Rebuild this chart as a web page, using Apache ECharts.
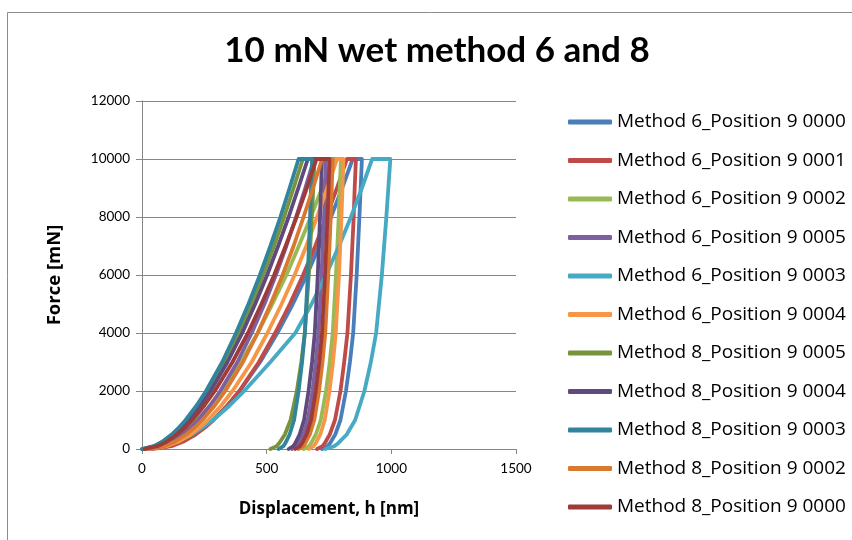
<!DOCTYPE html>
<html>
<head>
<meta charset="utf-8">
<script src="https://cdn.jsdelivr.net/npm/echarts@6/dist/echarts.min.js"></script>
<style>
  html, body { margin: 0; padding: 0; background: #fff; }
  #chart { width: 852px; height: 540px; }
</style>
</head>
<body>
<div id="chart"></div>
<script>
// Force levels (mN) shared by every indentation curve
const forceLoad   = [0, 100, 250, 500, 750, 1000, 1500, 2000, 3000, 4000, 5000, 6000, 7000, 8000, 9000, 10000];
const forceUnload = [10000, 9000, 8000, 6000, 4000, 3000, 2000, 1000, 500, 200, 100, 0];

// Displacement (nm) at each force level: loading branch, then hold end + unloading branch
const m6p0000Load   = [25, 107, 155, 209, 250, 284, 342, 392, 474, 543, 605, 661, 711, 758, 803, 845];
const m6p0000Unload = [882, 877, 872, 861, 847, 834, 818, 796, 775, 754, 744, 722];

const m6p0001Load   = [40, 118, 164, 215, 254, 287, 343, 390, 469, 534, 593, 646, 695, 739, 782, 822];
const m6p0001Unload = [858, 853, 849, 838, 824, 811, 796, 774, 753, 733, 724, 702];

const m6p0002Load   = [10, 68, 107, 153, 189, 220, 273, 319, 397, 464, 523, 579, 629, 677, 722, 765];
const m6p0002Unload = [798, 793, 789, 778, 765, 753, 738, 717, 697, 678, 669, 648];

const m6p0005Load   = [10, 78, 117, 162, 196, 225, 273, 314, 383, 440, 491, 537, 579, 618, 655, 690];
const m6p0005Unload = [738, 734, 730, 720, 708, 697, 684, 665, 647, 629, 621, 602];

const m6p0003Load   = [10, 90, 140, 200, 245, 285, 352, 410, 515, 615, 680, 738, 790, 838, 882, 923];
const m6p0003Unload = [996, 988, 980, 962, 939, 918, 892, 855, 821, 787, 772, 735];

const m6p0004Load   = [25, 101, 145, 195, 232, 264, 318, 363, 440, 503, 560, 612, 659, 702, 743, 782];
const m6p0004Unload = [808, 804, 800, 790, 777, 766, 752, 733, 715, 697, 688, 669];

const m8p0005Load   = [0, 50, 83, 122, 153, 179, 224, 264, 330, 388, 439, 486, 529, 570, 608, 645];
const m8p0005Unload = [692, 687, 681, 669, 653, 639, 621, 596, 573, 550, 540, 515];

const m8p0004Load   = [5, 56, 90, 130, 161, 188, 235, 275, 343, 402, 454, 502, 546, 588, 627, 665];
const m8p0004Unload = [722, 718, 714, 705, 693, 682, 668, 650, 632, 615, 607, 588];

const m8p0003Load   = [0, 48, 81, 119, 149, 175, 219, 257, 322, 377, 427, 473, 515, 555, 592, 628];
const m8p0003Unload = [682, 678, 674, 665, 653, 642, 628, 610, 592, 575, 567, 548];

const m8p0002Load   = [20, 90, 131, 177, 212, 242, 292, 334, 405, 464, 516, 564, 608, 648, 686, 722];
const m8p0002Unload = [765, 761, 757, 747, 735, 724, 710, 691, 673, 655, 647, 628];

const m8p0000Load   = [10, 63, 99, 140, 174, 202, 250, 292, 363, 425, 479, 530, 576, 620, 661, 700];
const m8p0000Unload = [752, 748, 744, 734, 722, 711, 697, 678, 660, 642, 634, 615];

const seriesNames = [
  'Method 6_Position 9 0000', 'Method 6_Position 9 0001', 'Method 6_Position 9 0002',
  'Method 6_Position 9 0005', 'Method 6_Position 9 0003', 'Method 6_Position 9 0004',
  'Method 8_Position 9 0005', 'Method 8_Position 9 0004', 'Method 8_Position 9 0003',
  'Method 8_Position 9 0002', 'Method 8_Position 9 0000'
];
const seriesColors = [
  '#4A7EBB', '#BE4B48', '#98B954', '#7D60A0', '#46AAC5', '#F69646',
  '#77933C', '#5F4A7E', '#31849B', '#D9782F', '#9E3B38'
];
const loadBranches = [m6p0000Load, m6p0001Load, m6p0002Load, m6p0005Load, m6p0003Load, m6p0004Load,
                      m8p0005Load, m8p0004Load, m8p0003Load, m8p0002Load, m8p0000Load];
const unloadBranches = [m6p0000Unload, m6p0001Unload, m6p0002Unload, m6p0005Unload, m6p0003Unload, m6p0004Unload,
                        m8p0005Unload, m8p0004Unload, m8p0003Unload, m8p0002Unload, m8p0000Unload];

const xTicks = [0, 500, 1000, 1500];
const yTicks = [0, 2000, 4000, 6000, 8000, 10000, 12000];

function curve(i) {
  const pts = loadBranches[i].map((h, k) => [h, forceLoad[k]]);
  unloadBranches[i].forEach((h, k) => pts.push([h, forceUnload[k]]));
  return pts;
}

const FONT = 'Lato, "Open Sans", sans-serif';
const FONT2 = '"Open Sans", Lato, sans-serif';
const chart = echarts.init(document.getElementById('chart'), null, { renderer: 'canvas' });

chart.setOption({
  animation: false,
  backgroundColor: '#ffffff',
  title: {
    text: '10 mN wet method 6 and 8',
    left: 437, top: 33, textAlign: 'center', padding: 0,
    textStyle: { fontFamily: FONT, fontSize: 35, fontWeight: 'bold', color: '#000' }
  },
  graphic: [{
    type: 'rect', silent: true, z: -1,
    shape: { x: 7.5, y: 12.5, width: 900, height: 600 },
    style: { fill: 'none', stroke: '#8c8c8c', lineWidth: 1 }
  }],
  grid: { left: 142, right: 336, top: 101, bottom: 91, containLabel: false },
  legend: {
    orient: 'vertical', left: 568, top: 112, padding: 0,
    itemWidth: 44, itemHeight: 5, itemGap: 18.5,
    icon: 'roundRect',
    textStyle: { fontFamily: FONT2, fontSize: 19, lineHeight: 20, color: '#000' },
    data: seriesNames
  },
  xAxis: {
    type: 'value', min: xTicks[0], max: xTicks[xTicks.length - 1], interval: 500,
    name: 'Displacement, h [nm]', nameLocation: 'middle', nameGap: 52,
    nameTextStyle: { fontFamily: FONT2, fontSize: 17, fontWeight: 'bold', color: '#000' },
    axisLine: { show: true, lineStyle: { color: '#868686', width: 1 } },
    axisTick: { show: true, inside: false, length: 5, lineStyle: { color: '#868686' } },
    axisLabel: { fontFamily: FONT, fontSize: 13.5, color: '#000', margin: 13, formatter: v => String(v) },
    splitLine: { show: false }
  },
  yAxis: {
    type: 'value', min: yTicks[0], max: yTicks[yTicks.length - 1], interval: 2000,
    name: 'Force [mN]', nameLocation: 'middle', nameGap: 78, nameRotate: 90,
    nameTextStyle: { fontFamily: FONT2, fontSize: 18.5, fontWeight: 'bold', color: '#000' },
    axisLine: { show: true, lineStyle: { color: '#868686', width: 1 } },
    axisTick: { show: true, inside: false, length: 6, lineStyle: { color: '#868686' } },
    axisLabel: { fontFamily: FONT, fontSize: 13.5, color: '#000', margin: 12, formatter: v => String(v) },
    splitLine: { show: true, lineStyle: { color: '#868686', width: 1 } }
  },
  series: seriesNames.map((name, i) => ({
    name: name,
    type: 'line',
    data: curve(i),
    showSymbol: false,
    symbol: 'none',
    color: seriesColors[i],
    lineStyle: { width: 3.8, color: seriesColors[i], cap: 'round', join: 'round' },
    clip: false
  }))
});
</script>
</body>
</html>
